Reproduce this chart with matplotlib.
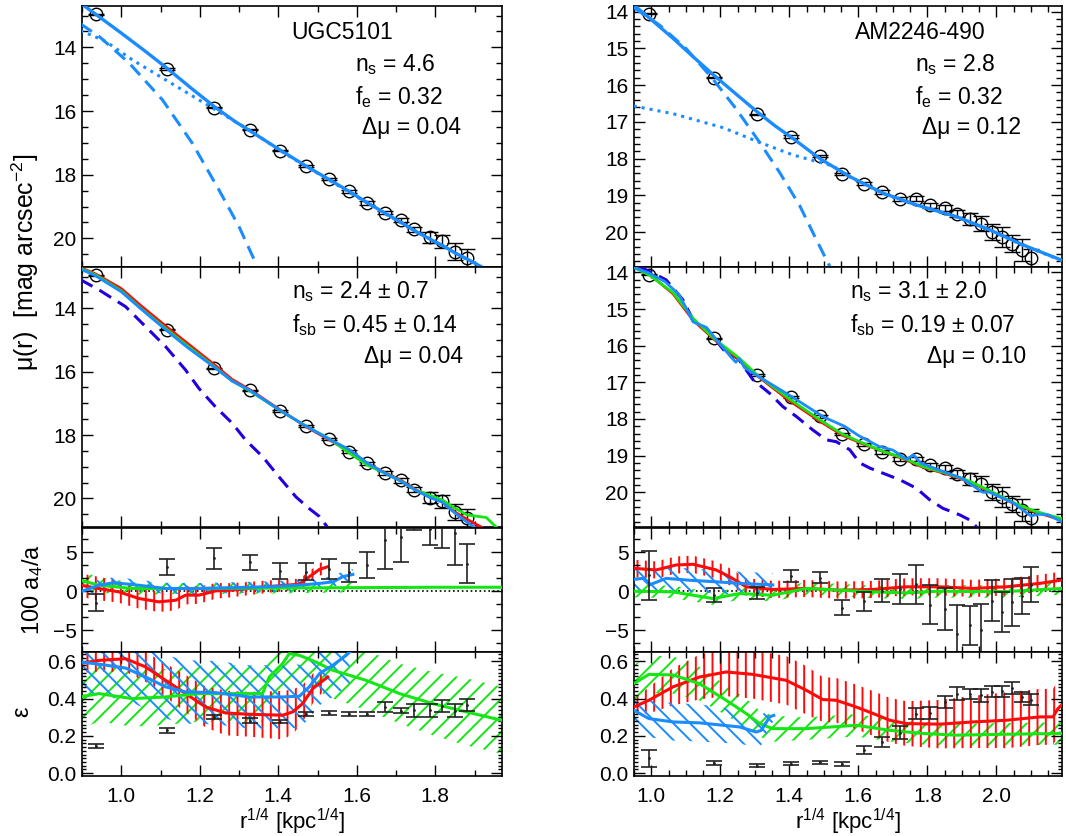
import numpy as np
import matplotlib
matplotlib.use("Agg")
import matplotlib.pyplot as plt
from matplotlib.ticker import MultipleLocator, AutoMinorLocator

plt.rcParams['font.family'] = ['Liberation Sans', 'DejaVu Sans']
plt.rcParams['mathtext.fontset'] = 'custom'
plt.rcParams['mathtext.rm'] = 'Liberation Sans'
plt.rcParams['mathtext.it'] = 'Liberation Sans'
plt.rcParams['mathtext.default'] = 'regular'
plt.rcParams['hatch.linewidth'] = 1.4

RED = '#ff0a0a'
GREEN = '#14e614'
BLUE = '#1a8cff'
DBLUE = '#2200dd'

# ---------------- UGC5101 (left column) ----------------
ugc_r = [0.935, 1.117, 1.237, 1.329, 1.404, 1.471, 1.528, 1.580, 1.627, 1.671,
         1.713, 1.747, 1.786, 1.818, 1.849, 1.881]
ugc_mu = [12.96, 14.68, 15.89, 16.59, 17.24, 17.72, 18.13, 18.52, 18.89, 19.19,
          19.43, 19.72, 19.97, 20.09, 20.42, 20.61]
ugc_mu_err = [0.02, 0.02, 0.02, 0.02, 0.02, 0.03, 0.03, 0.04, 0.05, 0.06,
              0.07, 0.09, 0.18, 0.2, 0.26, 0.28]

ugc_fit_r = [0.905, 0.935, 1.0, 1.06, 1.117, 1.18, 1.237, 1.29, 1.329, 1.404, 1.471, 1.528, 1.58,
             1.627, 1.671, 1.713, 1.747, 1.786, 1.818, 1.849, 1.881, 1.917]
ugc_fit_mu = [12.69, 12.96, 13.55, 14.11, 14.66, 15.3, 15.86, 16.33, 16.63, 17.22, 17.73, 18.14, 18.52,
              18.88, 19.2, 19.5, 19.76, 20.02, 20.22, 20.45, 20.65, 20.89]
ugc_bulge_r = [0.896, 0.943, 1.02, 1.105, 1.181, 1.249, 1.3, 1.339, 1.345]
ugc_bulge_mu = [13.26, 13.65, 14.49, 15.65, 17.01, 18.48, 19.63, 20.68, 20.9]
ugc_disk_r = [0.896, 0.96, 1.028, 1.113, 1.198, 1.283, 1.329, 1.404, 1.528, 1.671, 1.818, 1.917]
ugc_disk_mu = [13.47, 13.81, 14.39, 15.02, 15.65, 16.28, 16.62, 17.24, 18.16, 19.22, 20.24, 20.9]

ugc_sim_r = [0.896, 0.935, 1.0, 1.05, 1.117, 1.17, 1.237, 1.283, 1.329, 1.404, 1.471,
             1.528, 1.58, 1.627, 1.671, 1.713, 1.747, 1.786, 1.818, 1.849, 1.881, 1.917]
ugc_sim_red = [12.72, 12.92, 13.38, 13.92, 14.6, 15.12, 15.78, 16.25, 16.58, 17.2, 17.74,
               18.14, 18.5, 18.9, 19.18, 19.43, 19.7, 19.95, 20.1, 20.42, 20.66, 20.9]
ugc_sim_green_r = [0.896, 0.935, 1.0, 1.05, 1.117, 1.17, 1.237, 1.283, 1.329, 1.404, 1.471,
                   1.528, 1.58, 1.627, 1.671, 1.713, 1.747, 1.786, 1.818, 1.849, 1.881,
                   1.93, 1.955]
ugc_sim_green = [12.74, 12.95, 13.45, 14.0, 14.68, 15.2, 15.84, 16.3, 16.62, 17.22, 17.72,
                 18.1, 18.56, 18.95, 19.2, 19.45, 19.72, 19.9, 20.05, 20.3, 20.52,
                 20.6, 20.9]
ugc_sim_blue_r = [0.896, 0.935, 1.0, 1.05, 1.117, 1.17, 1.237, 1.283, 1.329, 1.404, 1.471,
                  1.528, 1.58, 1.627, 1.671, 1.713, 1.747, 1.786, 1.818, 1.849, 1.881, 1.9]
ugc_sim_blue = [12.76, 12.98, 13.48, 14.02, 14.72, 15.25, 15.86, 16.3, 16.6, 17.22, 17.72,
                18.12, 18.45, 18.88, 19.2, 19.46, 19.72, 19.97, 20.12, 20.45, 20.75, 20.9]
ugc_sb_r = [0.896, 0.943, 1.011, 1.062, 1.113, 1.164, 1.198, 1.24, 1.283, 1.317, 1.36,
            1.402, 1.445, 1.479, 1.504, 1.525]
ugc_sb_mu = [13.1, 13.42, 13.95, 14.58, 15.21, 15.95, 16.53, 17.11, 17.63, 18.16, 18.68,
             19.32, 19.95, 20.32, 20.56, 20.9]

ugc_a4 = [-1.5, 3.1, 4.2, 3.7, 2.6, 2.5, 2.8, 2.4, 3.35, 6.5, 7.0, 9.2, 8.0, 8.5, 7.5, 3.5]
ugc_a4_err = [1.1, 1.0, 1.3, 1.0, 1.0, 1.1, 1.3, 1.2, 1.7, 3.6, 3.2, 1.3, 2.1, 3.0, 4.1, 2.5]
ugc_a4_red_r = [0.896, 0.943, 0.994, 1.045, 1.096, 1.139, 1.164, 1.198, 1.241, 1.283,
                1.369, 1.454, 1.479, 1.505, 1.526]
ugc_a4_red = [0.77, 0.34, -0.09, -0.94, -1.37, -1.16, -0.51, -0.51, 0.04, 0.13,
              0.56, 0.9, 1.85, 2.79, 3.13]
ugc_a4_red_w = [1.5, 1.5, 1.4, 1.3, 1.3, 1.3, 1.2, 1.1, 1.0, 0.9, 0.8, 0.7, 0.7, 0.8, 0.9]
ugc_a4_green_r = [0.896, 0.943, 1.028, 1.2, 1.4, 1.59, 1.6, 1.8, 1.97]
ugc_a4_green = [1.4, 0.77, 0.34, 0.35, 0.4, 0.45, 0.45, 0.5, 0.5]
ugc_a4_green_w = [1.2, 1.0, 0.8, 0.7, 0.7, 0.6, np.nan, np.nan, np.nan]
ugc_a4_blue_r = [0.896, 0.943, 0.98, 1.028, 1.113, 1.198, 1.369, 1.454, 1.505, 1.54, 1.564, 1.59]
ugc_a4_blue = [-0.09, 0.77, 1.07, 0.86, 0.34, 0.34, 0.56, 0.77, 0.99, 1.2, 1.85, 2.15]
ugc_a4_blue_w = [0.7] * 12

ugc_eps = [0.145, 0.23, 0.302, 0.282, 0.277, 0.318, 0.323, 0.318, 0.318, 0.355,
           0.336, 0.338, 0.338, 0.36, 0.336, 0.366]
ugc_eps_err = [0.012, 0.012, 0.012, 0.012, 0.01, 0.012, 0.012, 0.01, 0.012, 0.025,
               0.012, 0.035, 0.035, 0.03, 0.037, 0.03]
ugc_eps_red_r = [0.896, 0.943, 1.011, 1.062, 1.113, 1.164, 1.215, 1.266, 1.326, 1.411,
                 1.437, 1.462, 1.488, 1.526]
ugc_eps_red = [0.588, 0.605, 0.614, 0.57, 0.498, 0.427, 0.355, 0.323, 0.316, 0.311,
               0.329, 0.373, 0.454, 0.516]
ugc_eps_red_w = [0.05, 0.06, 0.07, 0.08, 0.09, 0.1, 0.11, 0.12, 0.12, 0.13, 0.12, 0.1, 0.08, 0.05]
ugc_eps_green_r = [0.896, 0.943, 1.028, 1.113, 1.198, 1.283, 1.36, 1.377, 1.411, 1.428,
                   1.454, 1.496, 1.539, 1.624, 1.709, 1.794, 1.879, 1.969]
ugc_eps_green = [0.409, 0.427, 0.4, 0.409, 0.427, 0.427, 0.427, 0.516, 0.588, 0.641,
                 0.632, 0.596, 0.552, 0.498, 0.427, 0.373, 0.329, 0.284]
ugc_eps_green_w = [0.17, 0.15, 0.15, 0.15, 0.15, 0.15, 0.15, 0.15, 0.15, 0.15,
                   0.15, 0.15, 0.15, 0.16, 0.16, 0.17, 0.18, 0.18]
ugc_eps_blue_r = [0.896, 0.943, 1.011, 1.062, 1.113, 1.164, 1.241, 1.326, 1.411, 1.454,
                  1.479, 1.505, 1.539, 1.573, 1.582]
ugc_eps_blue = [0.596, 0.585, 0.564, 0.516, 0.463, 0.436, 0.432, 0.409, 0.409, 0.413,
                0.463, 0.534, 0.579, 0.632, 0.65]
ugc_eps_blue_w = [0.17] * 15

# ---------------- AM2246-490 (right column) ----------------
am_r = [0.993, 1.181, 1.307, 1.406, 1.488, 1.553, 1.615, 1.669, 1.72, 1.766,
        1.808, 1.85, 1.886, 1.923, 1.956, 1.987, 2.017, 2.046, 2.074, 2.101]
am_mu = [14.06, 15.8, 16.8, 17.4, 17.93, 18.41, 18.69, 18.91, 19.1, 19.09,
         19.27, 19.35, 19.5, 19.64, 19.77, 20.0, 20.14, 20.32, 20.48, 20.71]
am_mu_err = [0.02, 0.02, 0.02, 0.03, 0.03, 0.03, 0.04, 0.05, 0.06, 0.06,
             0.07, 0.08, 0.1, 0.16, 0.2, 0.22, 0.27, 0.23, 0.3, 0.25]

am_fit_r = [0.949, 1.0, 1.063, 1.12, 1.181, 1.25, 1.307, 1.36, 1.41, 1.488, 1.575, 1.671,
            1.768, 1.884, 1.981, 2.077, 2.188]
am_fit_mu = [13.82, 14.22, 14.73, 15.22, 15.73, 16.28, 16.73, 17.12, 17.45, 18.0, 18.49, 18.94,
             19.26, 19.58, 19.94, 20.35, 20.76]
am_bulge_r = [0.949, 1.024, 1.101, 1.178, 1.246, 1.314, 1.372, 1.43, 1.478, 1.517]
am_bulge_mu = [13.89, 14.37, 15.01, 15.83, 16.65, 17.56, 18.38, 19.28, 20.2, 20.93]
am_disk_r = [0.949, 1.063, 1.208, 1.314, 1.41, 1.526, 1.575, 1.671, 1.768, 1.884,
             1.981, 2.077, 2.188]
am_disk_mu = [16.57, 16.78, 17.16, 17.56, 17.9, 18.2, 18.5, 18.95, 19.27, 19.59,
              19.95, 20.36, 20.77]

am_sim_r = [0.949, 0.996, 1.063, 1.121, 1.179, 1.256, 1.307, 1.4, 1.488, 1.555, 1.613,
            1.671, 1.729, 1.787, 1.855, 1.923, 1.981, 2.048, 2.106, 2.188]
am_sim_red = [13.84, 14.06, 14.58, 15.3, 15.8, 16.4, 16.82, 17.5, 18.06, 18.45, 18.68,
              18.88, 19.08, 19.32, 19.5, 19.72, 19.98, 20.3, 20.52, 20.76]
am_sim_green = [13.86, 14.08, 14.55, 15.25, 15.78, 16.35, 16.8, 17.45, 18.02, 18.42, 18.66,
                18.88, 19.06, 19.3, 19.48, 19.7, 19.96, 20.28, 20.5, 20.72]
am_sim_blue_r = [0.949, 0.99, 1.04, 1.08, 1.1, 1.121, 1.16, 1.19, 1.23, 1.245, 1.255, 1.27,
                 1.33, 1.4, 1.45, 1.5, 1.56, 1.6, 1.66, 1.7, 1.74, 1.76, 1.78, 1.83, 1.9,
                 1.96, 1.98, 2.05, 2.1, 2.12, 2.15, 2.188]
am_sim_blue = [13.86, 14.0, 14.25, 14.6, 14.95, 15.35, 15.5, 15.85, 16.3, 16.45, 16.35, 16.6,
               16.95, 17.35, 17.65, 17.95, 18.2, 18.45, 18.75, 18.85, 19.1, 18.98, 19.2,
               19.38, 19.62, 20.0, 20.0, 20.3, 20.65, 20.6, 20.62, 20.8]
am_sb_r = [0.966, 1.005, 1.043, 1.092, 1.121, 1.179, 1.217, 1.251, 1.295, 1.343, 1.381,
           1.42, 1.468, 1.507, 1.536, 1.575, 1.604, 1.633, 1.671, 1.72, 1.768, 1.807,
           1.845, 1.894, 1.923, 1.942]
am_sb_mu = [13.84, 14.02, 14.2, 14.75, 15.29, 15.75, 16.2, 16.34, 16.93, 17.3, 17.66,
            17.93, 18.3, 18.57, 18.62, 18.84, 19.2, 19.34, 19.48, 19.66, 19.89, 20.21,
            20.44, 20.62, 20.76, 20.94]

am_a4 = [2.05, -0.47, -0.2, 1.96, 1.75, -2.13, -1.32, 0.07, 0.28, 0.9, -1.75, -2.3,
         -5.5, -4.4, -5.0, -1.2, -2.67, -1.45, -0.62, 0.84]
am_a4_err = [3.15, 0.9, 0.75, 0.75, 0.75, 0.97, 1.23, 1.45, 1.88, 2.5, 2.5, 2.65,
             3.7, 2.46, 3.4, 2.63, 2.6, 2.96, 2.26, 2.22]
am_a4_red_r = [0.949, 1.014, 1.072, 1.121, 1.188, 1.227, 1.275, 1.352, 1.449, 1.546,
               1.643, 1.739, 1.836, 1.932, 2.029, 2.126, 2.188]
am_a4_red = [2.93, 2.72, 3.36, 3.45, 2.72, 1.85, 0.56, 0.22, 0.35, 0.13,
             0.22, 0.56, 0.56, 0.35, 0.56, 1.0, 1.42]
am_a4_red_w = [1.1] * 17
am_a4_green_r = [0.949, 1.063, 1.179, 1.256, 1.352, 1.449, 1.546, 1.643, 1.739, 1.836,
                 1.932, 2.029, 2.188]
am_a4_green = [0.0, -0.09, -0.95, -0.3, -0.52, 0.35, 0.13, -0.09, -0.22, 0.0, -0.05, -0.05, 0.35]
am_a4_green_w = [0.8] * 13
am_a4_blue_r = [0.949, 0.976, 0.995, 1.043, 1.111, 1.188, 1.256, 1.352]
am_a4_blue = [1.5, 1.64, 0.8, 1.64, 1.4, 1.2, 1.0, 0.8]
am_a4_blue_w = [1.5] * 8

am_eps = [0.08, 0.054, 0.041, 0.052, 0.059, 0.048, 0.125, 0.168, 0.216, 0.32,
          0.323, 0.38, 0.427, 0.427, 0.418, 0.438, 0.44, 0.457, 0.409, 0.395]
am_eps_err = [0.045, 0.01, 0.01, 0.01, 0.008, 0.01, 0.02, 0.025, 0.035, 0.027,
              0.03, 0.033, 0.036, 0.027, 0.036, 0.028, 0.03, 0.033, 0.027, 0.03]
am_eps_red_r = [0.949, 0.993, 1.063, 1.14, 1.217, 1.294, 1.391, 1.449, 1.497, 1.536, 1.594,
                1.643, 1.691, 1.739, 1.836, 1.932, 2.029, 2.126, 2.164, 2.178, 2.188]
am_eps_red = [0.355, 0.391, 0.463, 0.516, 0.543, 0.53, 0.498, 0.445, 0.395, 0.391, 0.355,
              0.32, 0.284, 0.266, 0.263, 0.275, 0.284, 0.302, 0.302, 0.346, 0.364]
am_eps_red_w = [0.04, 0.07, 0.1, 0.12, 0.13, 0.13, 0.13, 0.13, 0.12, 0.12, 0.12,
                0.12, 0.12, 0.12, 0.13, 0.14, 0.15, 0.15, 0.15, 0.15, 0.15]
am_eps_green_r = [0.949, 0.993, 1.063, 1.14, 1.217, 1.275, 1.314, 1.352, 1.449, 1.594,
                  1.691, 1.787, 1.884, 2.029, 2.188]
am_eps_green = [0.48, 0.53, 0.527, 0.48, 0.391, 0.32, 0.266, 0.239, 0.239, 0.257,
                0.23, 0.213, 0.204, 0.209, 0.213]
am_eps_green_w = [0.1, 0.1, 0.1, 0.09, 0.08, 0.08, 0.07, 0.07, 0.06, 0.06, 0.06, 0.06, 0.06, 0.06, 0.06]
am_eps_blue_r = [0.949, 0.993, 1.063, 1.14, 1.256, 1.304, 1.319, 1.343, 1.355]
am_eps_blue = [0.338, 0.293, 0.275, 0.27, 0.248, 0.221, 0.23, 0.302, 0.31]
am_eps_blue_w = [0.1, 0.1, 0.1, 0.1, 0.09, 0.08, 0.08, 0.05, 0.03]


def style(ax, xlim, xminor, ylim, ymajor, yminor, bottom=False):
    ax.set_xlim(*xlim)
    ax.set_ylim(*ylim)
    ax.xaxis.set_major_locator(MultipleLocator(0.2))
    ax.xaxis.set_minor_locator(MultipleLocator(xminor))
    ax.yaxis.set_major_locator(MultipleLocator(ymajor))
    if isinstance(yminor, int):
        ax.yaxis.set_minor_locator(AutoMinorLocator(yminor))
    else:
        ax.yaxis.set_minor_locator(MultipleLocator(yminor))
    ax.tick_params(which='both', direction='in', top=True, right=True,
                   labelsize=15, width=1)
    ax.tick_params(which='major', length=8)
    ax.tick_params(which='minor', length=4)
    ax.tick_params(axis='y', pad=4)
    ax.tick_params(axis='x', pad=8, labelbottom=bottom)
    for s in ax.spines.values():
        s.set_linewidth(1.2)


def band(ax, x, y, w, color, hatch):
    x = np.array(x)
    y = np.array(y)
    w = np.array(w, dtype=float)
    ax.fill_between(x, y - w, y + w, facecolor='none', edgecolor=color,
                    hatch=hatch, linewidth=0, zorder=1)


def column(x0, width, xlim, xminor, pylim, pmaj, pmin, d):
    fig_h = 836.0
    rows = [(6, 267), (267, 527), (528, 652), (652, 776)]
    axs = []
    for top, bot in rows:
        axs.append(fig.add_axes([x0, 1 - bot / fig_h, width, (bot - top) / fig_h]))
    a1, a2, a3, a4 = axs

    # profile + fit
    a1.errorbar(d['r'], d['mu'], yerr=d['mu_err'], fmt='o', mfc='none', mec='k', ms=9,
                mew=1, ecolor='k', elinewidth=1, capsize=6, capthick=1, zorder=2)
    a1.plot(d['disk_r'], d['disk_mu'], ls=':', color=BLUE, lw=2.2, zorder=3)
    a1.plot(d['bulge_r'], d['bulge_mu'], ls=(0, (4.5, 2.6)), color=BLUE, lw=2.2, zorder=3)
    a1.plot(d['fit_r'], d['fit_mu'], color=BLUE, lw=2.4, zorder=4)
    style(a1, xlim, xminor, pylim, pmaj, pmin)

    # profile + simulation
    a2.errorbar(d['r'], d['mu'], yerr=d['mu_err'], fmt='o', mfc='none', mec='k', ms=9,
                mew=1, ecolor='k', elinewidth=1, capsize=6, capthick=1, zorder=2)
    a2.plot(d['sb_r'], d['sb_mu'], ls=(0, (4.5, 2.6)), color=DBLUE, lw=2.2, zorder=3)
    a2.plot(d['sim_red_r'], d['sim_red'], color=RED, lw=2, zorder=3)
    a2.plot(d['sim_green_r'], d['sim_green'], color=GREEN, lw=2, zorder=3)
    a2.plot(d['sim_blue_r'], d['sim_blue'], color=BLUE, lw=2, zorder=4)
    style(a2, xlim, xminor, pylim, pmaj, pmin)

    # a4/a
    a3.axhline(0, color='k', ls=':', lw=1.2, zorder=0)
    band(a3, d['a4g_r'], d['a4g'], d['a4g_w'], GREEN, '//')
    band(a3, d['a4r_r'], d['a4r'], d['a4r_w'], RED, '||')
    band(a3, d['a4b_r'], d['a4b'], d['a4b_w'], BLUE, '\\\\')
    a3.errorbar(d['r'], d['a4'], yerr=d['a4_err'], fmt='.', color='#222222', ms=2,
                elinewidth=1.2, capsize=5.5, capthick=1.2, zorder=5)
    a3.plot(d['a4r_r'], d['a4r'], color=RED, lw=2.2, zorder=3)
    a3.plot(d['a4g_r'], d['a4g'], color=GREEN, lw=2.2, zorder=3)
    a3.plot(d['a4b_r'], d['a4b'], color=BLUE, lw=2.2, zorder=4)
    style(a3, xlim, xminor, (-7.8, 8.1), 5, 3)

    # ellipticity
    band(a4, d['eg_r'], d['eg'], d['eg_w'], GREEN, '//')
    band(a4, d['er_r'], d['er'], d['er_w'], RED, '||')
    band(a4, d['eb_r'], d['eb'], d['eb_w'], BLUE, '\\\\')
    a4.errorbar(d['r'], d['eps'], yerr=d['eps_err'], fmt='.', color='#222222', ms=2,
                elinewidth=1.2, capsize=5.5, capthick=1.2, zorder=5)
    a4.plot(d['er_r'], d['er'], color=RED, lw=2.2, zorder=3)
    a4.plot(d['eg_r'], d['eg'], color=GREEN, lw=2.2, zorder=3)
    a4.plot(d['eb_r'], d['eb'], color=BLUE, lw=2.2, zorder=4)
    style(a4, xlim, xminor, (-0.015, 0.65), 0.2, 0.02, bottom=True)
    a4.tick_params(which='minor', axis='y', length=3)
    return axs


fig = plt.figure(figsize=(10.66, 8.36), dpi=100)

ugc = dict(r=ugc_r, mu=ugc_mu, mu_err=ugc_mu_err,
           fit_r=ugc_fit_r, fit_mu=ugc_fit_mu, bulge_r=ugc_bulge_r, bulge_mu=ugc_bulge_mu,
           disk_r=ugc_disk_r, disk_mu=ugc_disk_mu,
           sim_red_r=ugc_sim_r, sim_red=ugc_sim_red,
           sim_green_r=ugc_sim_green_r, sim_green=ugc_sim_green,
           sim_blue_r=ugc_sim_blue_r, sim_blue=ugc_sim_blue,
           sb_r=ugc_sb_r, sb_mu=ugc_sb_mu,
           a4=ugc_a4, a4_err=ugc_a4_err,
           a4r_r=ugc_a4_red_r, a4r=ugc_a4_red, a4r_w=ugc_a4_red_w,
           a4g_r=ugc_a4_green_r, a4g=ugc_a4_green, a4g_w=ugc_a4_green_w,
           a4b_r=ugc_a4_blue_r, a4b=ugc_a4_blue, a4b_w=ugc_a4_blue_w,
           eps=ugc_eps, eps_err=ugc_eps_err,
           er_r=ugc_eps_red_r, er=ugc_eps_red, er_w=ugc_eps_red_w,
           eg_r=ugc_eps_green_r, eg=ugc_eps_green, eg_w=ugc_eps_green_w,
           eb_r=ugc_eps_blue_r, eb=ugc_eps_blue, eb_w=ugc_eps_blue_w)

am = dict(r=am_r, mu=am_mu, mu_err=am_mu_err,
          fit_r=am_fit_r, fit_mu=am_fit_mu, bulge_r=am_bulge_r, bulge_mu=am_bulge_mu,
          disk_r=am_disk_r, disk_mu=am_disk_mu,
          sim_red_r=am_sim_r, sim_red=am_sim_red,
          sim_green_r=am_sim_r, sim_green=am_sim_green,
          sim_blue_r=am_sim_blue_r, sim_blue=am_sim_blue,
          sb_r=am_sb_r, sb_mu=am_sb_mu,
          a4=am_a4, a4_err=am_a4_err,
          a4r_r=am_a4_red_r, a4r=am_a4_red, a4r_w=am_a4_red_w,
          a4g_r=am_a4_green_r, a4g=am_a4_green, a4g_w=am_a4_green_w,
          a4b_r=am_a4_blue_r, a4b=am_a4_blue, a4b_w=am_a4_blue_w,
          eps=am_eps, eps_err=am_eps_err,
          er_r=am_eps_red_r, er=am_eps_red, er_w=am_eps_red_w,
          eg_r=am_eps_green_r, eg=am_eps_green, eg_w=am_eps_green_w,
          eb_r=am_eps_blue_r, eb=am_eps_blue, eb_w=am_eps_blue_w)

L = column(82 / 1066, 420 / 1066, (0.9, 1.97), 0.1, (20.9, 12.7), 2, 0.5, ugc)
R = column(634 / 1066, 428 / 1066, (0.95, 2.19), 0.05, (20.95, 13.85), 1, 0.2, am)

fs = 16.5
L[0].text(0.62, 0.90, 'UGC5101', transform=L[0].transAxes, fontsize=fs, ha='center', va='center')
L[0].text(0.65, 0.774, 'n$_s$ = 4.6', transform=L[0].transAxes, fontsize=fs, va='center')
L[0].text(0.65, 0.651, 'f$_e$ = 0.32', transform=L[0].transAxes, fontsize=fs, va='center')
L[0].text(0.667, 0.533, 'Δμ = 0.04', transform=L[0].transAxes, fontsize=fs, va='center')

R[0].text(0.668, 0.90, 'AM2246-490', transform=R[0].transAxes, fontsize=fs, ha='center', va='center')
R[0].text(0.657, 0.774, 'n$_s$ = 2.8', transform=R[0].transAxes, fontsize=fs, va='center')
R[0].text(0.657, 0.651, 'f$_e$ = 0.32', transform=R[0].transAxes, fontsize=fs, va='center')
R[0].text(0.672, 0.533, 'Δμ = 0.12', transform=R[0].transAxes, fontsize=fs, va='center')

L[1].text(0.5, 0.905, 'n$_s$ = 2.4 ± 0.7', transform=L[1].transAxes, fontsize=fs, va='center')
L[1].text(0.5, 0.777, 'f$_{sb}$ = 0.45 ± 0.14', transform=L[1].transAxes, fontsize=fs, va='center')
L[1].text(0.907, 0.655, 'Δμ = 0.04', transform=L[1].transAxes, fontsize=fs, va='center', ha='right')

R[1].text(0.505, 0.905, 'n$_s$ = 3.1 ± 2.0', transform=R[1].transAxes, fontsize=fs, va='center')
R[1].text(0.505, 0.777, 'f$_{sb}$ = 0.19 ± 0.07', transform=R[1].transAxes, fontsize=fs, va='center')
R[1].text(0.917, 0.655, 'Δμ = 0.10', transform=R[1].transAxes, fontsize=fs, va='center', ha='right')

fig.text(0.0235, 1 - 262 / 836, 'μ(r)  [mag arcsec$^{-2}$]', rotation=90, fontsize=18,
         ha='center', va='center')
fig.text(0.031, 1 - 590 / 836, '100 a$_4$/a', rotation=90, fontsize=17, ha='center', va='center')
fig.text(0.0206, 1 - 712 / 836, 'ε', rotation=90, fontsize=17, ha='center', va='center')
fig.text(292 / 1066, 1 - 822 / 836, 'r$^{1/4}$ [kpc$^{1/4}$]', fontsize=16, ha='center', va='center')
fig.text(848 / 1066, 1 - 822 / 836, 'r$^{1/4}$ [kpc$^{1/4}$]', fontsize=16, ha='center', va='center')

fig.savefig('out.png', dpi=100)
